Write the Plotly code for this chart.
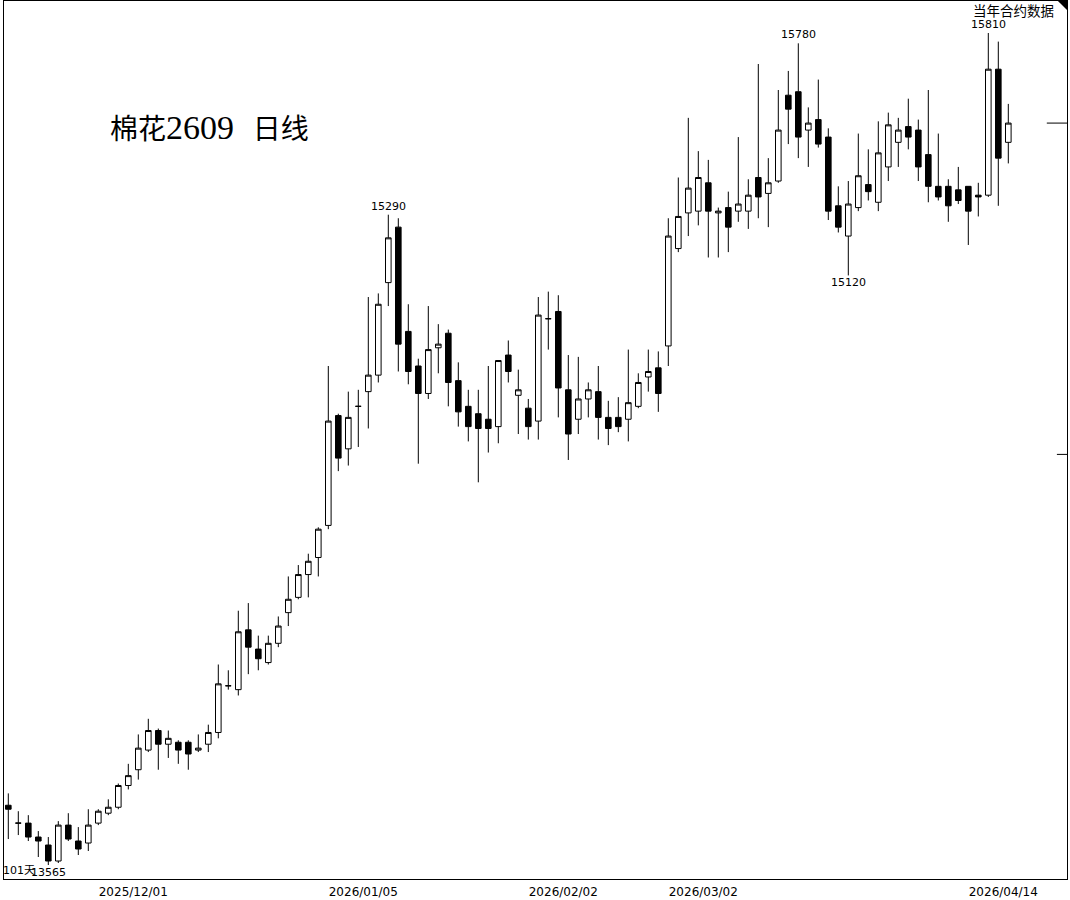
"""
cotton_2609_daily.py — 棉花2609 日线 candlestick chart.
"""

import numpy as np
import pandas as pd
import plotly.graph_objects as go


# trading calendar: 2025-11-12 .. 2026-04-14, exchange holidays removed
HOLIDAYS = [
    "2026-01-01", "2026-01-02",
    "2026-02-16", "2026-02-17", "2026-02-18", "2026-02-19", "2026-02-20", "2026-02-23",
    "2026-04-06",
]
dates = pd.bdate_range("2025-11-12", "2026-04-14", freq="C", holidays=HOLIDAYS).strftime("%Y-%m-%d").tolist()

opens = [
    13715, 13670, 13670, 13635, 13615, 13575, 13665, 13625, 13620, 13670,
    13695, 13710, 13765, 13805, 13855, 13905, 13870, 13875, 13875, 13855,
    13870, 13900, 14020, 14010, 14165, 14115, 14080, 14130, 14210, 14250,
    14310, 14355, 14440, 14735, 14645, 14760, 14800, 14845, 15100, 15255,
    14965, 14870, 14795, 14920, 14960, 14830, 14760, 14740, 14725, 14705,
    14900, 14790, 14755, 14720, 15000, 15020, 14805, 14725, 14780, 14800,
    14730, 14730, 14725, 14760, 14840, 14865, 14925, 15195, 15295, 15300,
    15380, 15295, 15310, 15300, 15300, 15395, 15350, 15385, 15630, 15640,
    15530, 15560, 15510, 15315, 15230, 15310, 15375, 15325, 15425, 15495,
    15540, 15530, 15460, 15370, 15370, 15360, 15370, 15345, 15345, 15705,
    15495,
]
highs = [
    13745, 13700, 13690, 13650, 13635, 13675, 13695, 13660, 13705, 13705,
    13730, 13770, 13820, 13895, 13935, 13910, 13905, 13880, 13880, 13895,
    13920, 14075, 14060, 14215, 14235, 14150, 14150, 14200, 14305, 14335,
    14365, 14435, 14870, 14740, 14800, 14805, 15060, 15070, 15290, 15280,
    15040, 14890, 15035, 14985, 14970, 14880, 14805, 14805, 14870, 14885,
    14940, 14860, 14780, 15060, 15075, 15065, 14900, 14895, 14825, 14870,
    14775, 14785, 14915, 14850, 14915, 14910, 15280, 15395, 15565, 15470,
    15445, 15310, 15355, 15510, 15390, 15720, 15450, 15645, 15700, 15780,
    15595, 15675, 15535, 15370, 15385, 15520, 15475, 15555, 15580, 15565,
    15620, 15560, 15645, 15520, 15390, 15425, 15370, 15380, 15810, 15785,
    15605,
]
lows = [
    13630, 13640, 13625, 13585, 13565, 13570, 13625, 13590, 13600, 13665,
    13690, 13705, 13755, 13780, 13850, 13805, 13835, 13820, 13805, 13850,
    13850, 13885, 14010, 13995, 14050, 14060, 14075, 14120, 14175, 14245,
    14250, 14305, 14430, 14585, 14600, 14650, 14700, 14825, 15035, 14855,
    14820, 14605, 14780, 14850, 14760, 14705, 14665, 14555, 14635, 14660,
    14825, 14685, 14670, 14670, 14915, 14730, 14615, 14685, 14730, 14670,
    14655, 14690, 14665, 14755, 14800, 14745, 14870, 15185, 15230, 15260,
    15170, 15170, 15185, 15270, 15250, 15280, 15255, 15380, 15490, 15450,
    15425, 15480, 15275, 15240, 15120, 15300, 15330, 15300, 15385, 15425,
    15475, 15385, 15325, 15330, 15270, 15320, 15205, 15285, 15340, 15315,
    15435,
]
closes = [
    13705, 13670, 13635, 13625, 13575, 13665, 13630, 13605, 13665, 13700,
    13710, 13765, 13790, 13860, 13905, 13870, 13885, 13855, 13845, 13860,
    13900, 14025, 14020, 14160, 14120, 14090, 14130, 14175, 14245, 14310,
    14345, 14430, 14720, 14620, 14730, 14760, 14845, 15040, 15225, 14930,
    14855, 14795, 14915, 14930, 14825, 14745, 14705, 14700, 14700, 14885,
    14855, 14805, 14705, 15010, 15000, 14810, 14685, 14780, 14805, 14730,
    14700, 14705, 14770, 14825, 14855, 14795, 15230, 15285, 15365, 15395,
    15300, 15300, 15255, 15320, 15345, 15340, 15380, 15530, 15590, 15510,
    15550, 15490, 15300, 15255, 15320, 15400, 15355, 15465, 15545, 15530,
    15510, 15425, 15370, 15340, 15315, 15330, 15300, 15340, 15705, 15450,
    15550,
]

TICK_DATES = ["2025-12-01", "2026-01-05", "2026-02-02", "2026-03-02", "2026-04-14"]
TICK_TEXT = ["2025/12/01", "2026/01/05", "2026/02/02", "2026/03/02", "2026/04/14"]

# swing points labelled on the chart
MARK_HIGHS = [38, 79, 98]
MARK_LOWS = [4, 84]

# short marks on the right edge: latest price and a reference level
REF_LEVELS = [15550, 14630]

TITLE = "棉花<span style='font-family:Liberation Serif;font-size:34px'>2609</span>&nbsp;&nbsp;&nbsp;日线"
NUM_FONT = "DejaVu Sans, Noto Sans CJK SC"

fig = go.Figure()

fig.add_trace(go.Candlestick(
    x=dates, open=opens, high=highs, low=lows, close=closes,
    increasing=dict(line=dict(color="black", width=1), fillcolor="white"),
    decreasing=dict(line=dict(color="black", width=1), fillcolor="black"),
    whiskerwidth=0,
    showlegend=False,
    hoverinfo="x+y",
))

for i in MARK_HIGHS:
    fig.add_annotation(
        x=dates[i], y=np.log10(highs[i]), text=str(highs[i]),
        showarrow=False, yanchor="bottom", yshift=0,
        font=dict(family=NUM_FONT, size=11, color="black"),
    )
for i in MARK_LOWS:
    fig.add_annotation(
        x=dates[i], y=np.log10(lows[i]), text=str(lows[i]),
        showarrow=False, yanchor="top", yshift=1,
        font=dict(family=NUM_FONT, size=11, color="black"),
    )

fig.add_annotation(
    text=f"{len(dates)}天", xref="paper", yref="paper", x=0, y=0,
    xanchor="left", yanchor="bottom", xshift=-3, yshift=0, showarrow=False,
    font=dict(family=NUM_FONT, size=11, color="black"),
)
fig.add_annotation(
    text=TITLE, xref="paper", yref="paper", x=0.0975, y=0.856,
    xanchor="left", yanchor="middle", showarrow=False,
    font=dict(family="Noto Sans CJK SC", size=28, color="black"),
)
fig.add_annotation(
    text="当年合约数据", xref="paper", yref="paper", x=0.9895, y=0.9895,
    xanchor="right", yanchor="middle", showarrow=False,
    font=dict(family="Noto Sans CJK SC", size=13.5, color="black"),
)

# corner triangle
fig.add_shape(
    type="path", xref="paper", yref="paper",
    path="M 0.9915 1 L 1 1 L 1 0.9897 Z",
    fillcolor="black", line=dict(width=0),
)
for lvl, x0 in zip(REF_LEVELS, [0.981, 0.9905]):
    fig.add_shape(
        type="line", xref="paper", yref="y", x0=x0, x1=1, y0=lvl, y1=lvl,
        line=dict(color="black", width=1),
    )

fig.update_layout(
    width=1070,
    height=900,
    margin=dict(t=1, b=21, l=4, r=3),
    paper_bgcolor="white",
    plot_bgcolor="white",
    boxgap=0.2,
    hovermode="closest",
)
fig.update_xaxes(
    type="category",
    range=[-0.43, 105.87],
    rangeslider_visible=False,
    showgrid=False,
    showline=True, mirror=True, linecolor="black", linewidth=1,
    ticks="",
    tickmode="array", tickvals=TICK_DATES, ticktext=TICK_TEXT,
    tickfont=dict(family=NUM_FONT, size=12, color="black"),
    ticklabelshift=-5,
    ticklabelstandoff=2,
)
fig.update_yaxes(
    type="log",
    range=[4.131301, 4.201490],
    showgrid=False,
    showticklabels=False,
    zeroline=False,
    showline=True, mirror=True, linecolor="black", linewidth=1,
    ticks="",
)

# page margin off so the figure sits at the window's top-left corner
fig.write_html(
    "out.html",
    config={"displayModeBar": False},
    post_script="document.body.style.margin='0';",
)
